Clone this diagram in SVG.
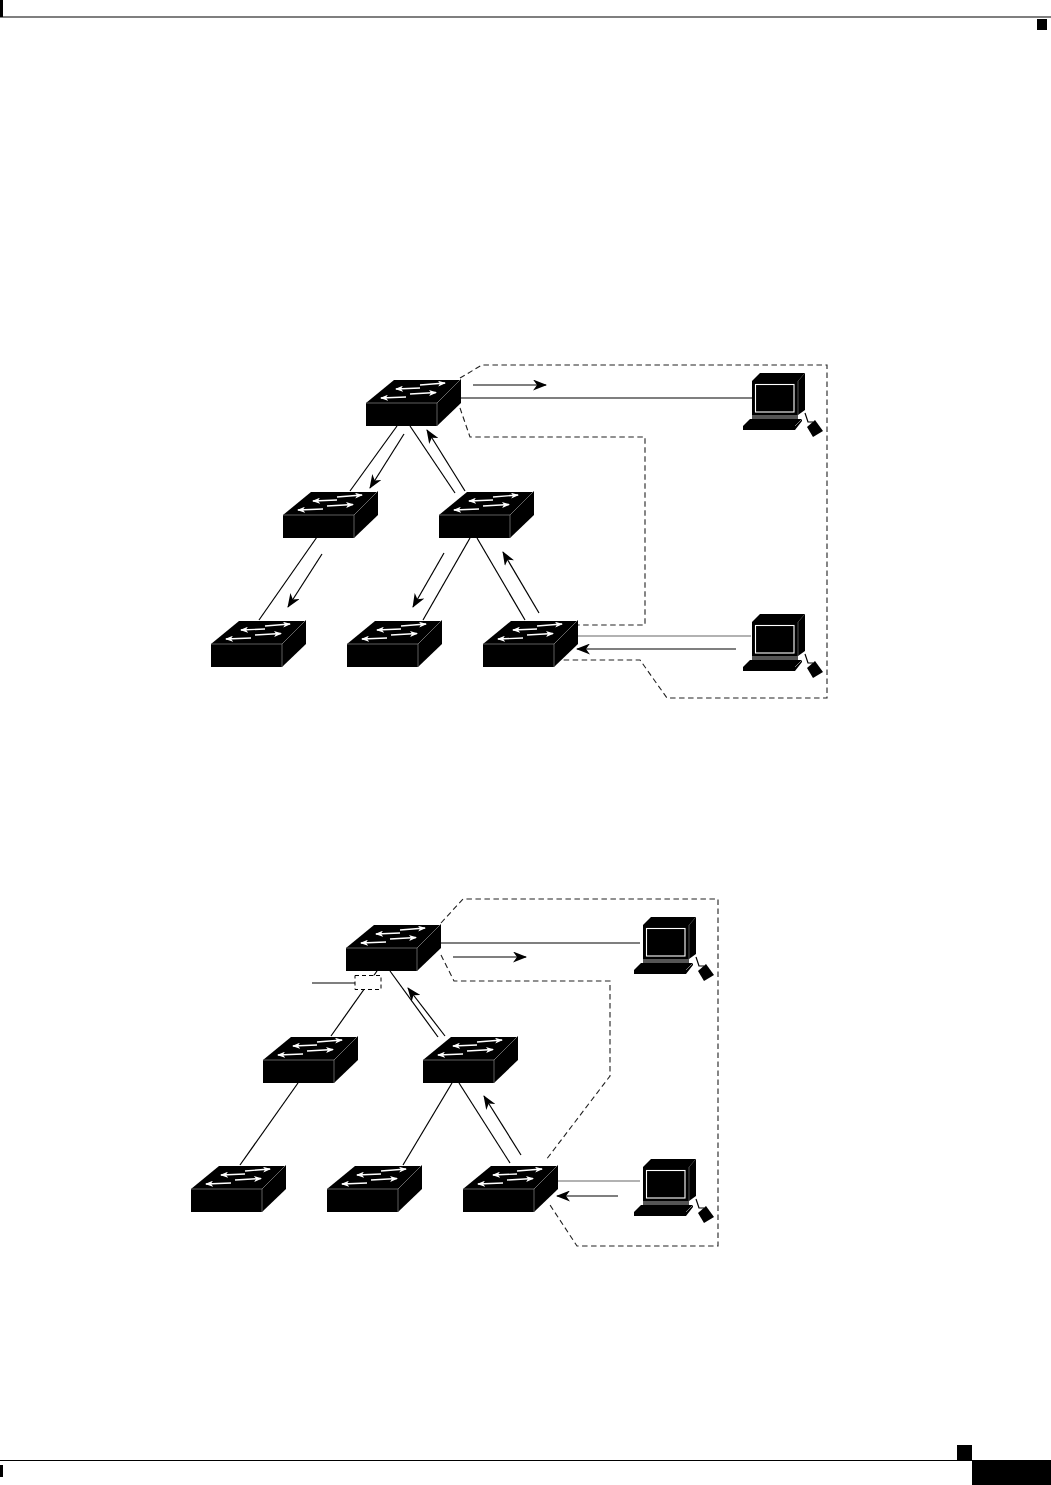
<svg xmlns="http://www.w3.org/2000/svg" xmlns:xlink="http://www.w3.org/1999/xlink" width="1051" height="1485" viewBox="0 0 1051 1485">
<style>
.ln{fill:none;stroke:#000;stroke-width:1.2}
.gr{fill:none;stroke:#999;stroke-width:1.6}
.dash{fill:none;stroke:#222;stroke-width:1.1;stroke-dasharray:5.500 3.500}
.arr{fill:none;stroke:#000;stroke-width:1.2;marker-end:url(#ah)}
.wa{fill:none;stroke:#fff;stroke-width:1.4;marker-end:url(#wh)}
</style>
<defs>
<marker id="ah" markerUnits="userSpaceOnUse" markerWidth="14" markerHeight="11" refX="13" refY="5.500" orient="auto" viewBox="0 0 14 11">
<path d="M0 0L14 5.500L0 11L4 5.500Z" fill="#000"/>
</marker>
<marker id="wh" markerUnits="userSpaceOnUse" markerWidth="8" markerHeight="6" refX="7" refY="3" orient="auto" viewBox="0 0 8 6">
<path d="M0 0L8 3L0 6L2 3Z" fill="#fff"/>
</marker>
<g id="sw">
<path d="M0 24L28 1H95L71 24Z" fill="#000"/>
<rect x="0" y="24" width="71" height="23" fill="#000"/>
<path d="M71 24L95 0V24L71 47Z" fill="#000"/>
<path d="M0 24H71L94 1M71 24V47" fill="none" stroke="#777" stroke-width="0.8"/>
<path class="wa" d="M54 6L79 4"/>
<path class="wa" d="M54 9L30 10"/>
<path class="wa" d="M44 15L70 13.500"/>
<path class="wa" d="M40 18L15 19"/>
</g>
<g id="pc">
<path d="M9 8L17 0H62L55 8Z" fill="#000"/>
<rect x="9" y="8" width="46" height="34" fill="#000"/>
<path d="M55 8L62 0V37L55 42Z" fill="#000"/>
<path d="M55 8V42" stroke="#888" stroke-width="0.6"/>
<rect x="12.500" y="11.500" width="38.500" height="27.500" fill="none" stroke="#fff" stroke-width="1.100"/>
<rect x="9" y="42" width="46" height="4" fill="#555"/>
<path d="M7 46H59L52 53H0Z" fill="#000"/>
<path d="M0 53H52L59 46V48L52 57H0Z" fill="#000"/>
<path d="M52 53L59 46" stroke="#999" stroke-width="0.6"/>
<path d="M62 40L65 49L70 49" class="ln"/>
<path d="M64 54L72 47L80 58L70 64Z" fill="#000"/>
</g>
</defs>
<g id="page">
<rect x="0" y="0" width="3" height="17" fill="#000"/>
<rect x="0" y="16.500" width="1051" height="1" fill="#000"/>
<rect x="1037" y="19" width="10" height="11" fill="#000"/>
<rect x="957" y="1445" width="15" height="15" fill="#000"/>
<rect x="0" y="1460" width="972" height="1" fill="#000"/>
<rect x="972" y="1460" width="79" height="25" fill="#000"/>
<rect x="0" y="1465" width="3" height="12" fill="#000"/>
</g>
<g id="connectors">
<path class="dash" d="M460 378L482 365H827V698H667L640 660H562"/>
<path class="dash" d="M460 408L470 437H645V625H577"/>
<path class="ln" d="M460 398H752"/>
<path class="arr" d="M473 385H546"/>
<path class="ln" d="M397 426L350 491"/>
<path class="arr" d="M404 434L370 488"/>
<path class="ln" d="M410 426L455 493"/>
<path class="arr" d="M465 491L427 430"/>
<path class="ln" d="M317 537L259 620"/>
<path class="arr" d="M322 554L288 607"/>
<path class="ln" d="M470 538L423 620"/>
<path class="arr" d="M444 553L413 607"/>
<path class="ln" d="M477 538L525 620"/>
<path class="arr" d="M539 613L503 552"/>
<path class="gr" d="M578 636H751"/>
<path class="arr" d="M736 649H577"/>
<path class="dash" d="M441 923L463 899H718V1246H577L550 1205"/>
<path class="dash" d="M441 955L454 981H610V1076L546 1160"/>
<path class="ln" d="M441 943H640"/>
<path class="arr" d="M453 957H526"/>
<path class="ln" d="M377 971L331 1036"/>
<path class="ln" d="M312 983H355"/>
<rect x="355" y="975.500" width="26" height="14" fill="#fff" stroke="#000" stroke-width="1" stroke-dasharray="4 3"/>
<path class="ln" d="M390 971L438 1037"/>
<path class="arr" d="M445 1036L408 988"/>
<path class="ln" d="M298 1083L240 1165"/>
<path class="ln" d="M452 1083L403 1165"/>
<path class="ln" d="M459 1083L510 1163"/>
<path class="arr" d="M521 1155L484 1096"/>
<path class="gr" d="M556 1181H640"/>
<path class="arr" d="M618 1196H557"/>
</g>
<g id="s1"><use xlink:href="#sw" href="#sw" x="366" y="379"/></g>
<g id="s2"><use xlink:href="#sw" href="#sw" x="283" y="491"/></g>
<g id="s3"><use xlink:href="#sw" href="#sw" x="439" y="491"/></g>
<g id="s4"><use xlink:href="#sw" href="#sw" x="211" y="620"/></g>
<g id="s5"><use xlink:href="#sw" href="#sw" x="347" y="620"/></g>
<g id="s6"><use xlink:href="#sw" href="#sw" x="483" y="620"/></g>
<g id="pc1"><use xlink:href="#pc" href="#pc" x="743" y="373"/></g>
<g id="pc2"><use xlink:href="#pc" href="#pc" x="743" y="614"/></g>
<g id="s7"><use xlink:href="#sw" href="#sw" x="346" y="924"/></g>
<g id="s8"><use xlink:href="#sw" href="#sw" x="263" y="1036"/></g>
<g id="s9"><use xlink:href="#sw" href="#sw" x="423" y="1036"/></g>
<g id="s10"><use xlink:href="#sw" href="#sw" x="191" y="1165"/></g>
<g id="s11"><use xlink:href="#sw" href="#sw" x="327" y="1165"/></g>
<g id="s12"><use xlink:href="#sw" href="#sw" x="463" y="1165"/></g>
<g id="pc3"><use xlink:href="#pc" href="#pc" x="634" y="917"/></g>
<g id="pc4"><use xlink:href="#pc" href="#pc" x="634" y="1159"/></g>
</svg>
